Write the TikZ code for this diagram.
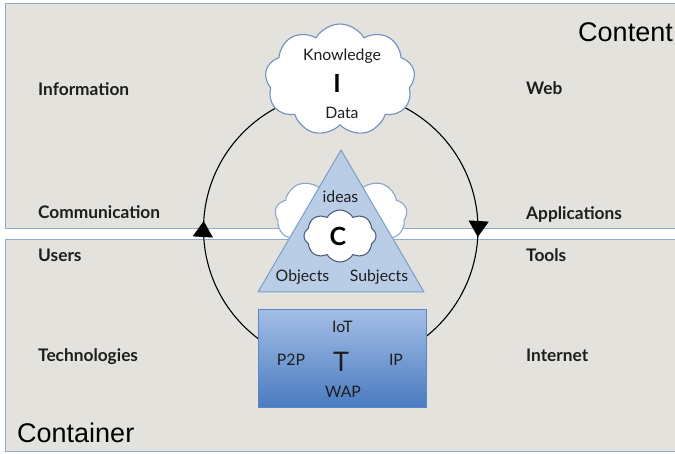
\documentclass[tikz,border=0pt]{standalone}
\usepackage{fontspec}
\setmainfont{Lato}
\newfontfamily\headfont{Liberation Sans}
\usetikzlibrary{shapes.symbols,arrows.meta,decorations.markings,shadows}

\definecolor{panelfill}{HTML}{E4E2DD}
\definecolor{panelline}{HTML}{8FA9D0}
\definecolor{cloudline}{HTML}{6F8FC0}
\definecolor{trifill}{HTML}{B9CDE6}
\definecolor{triline}{HTML}{7D9DC8}
\definecolor{boxtop}{HTML}{A3BEE6}
\definecolor{boxbottom}{HTML}{4A7BC0}
\definecolor{boxline}{HTML}{5E86C0}
\definecolor{textdark}{HTML}{1E1E1E}

\tikzset{
  panel/.style={fill=panelfill, draw=panelline, line width=1pt},
  sidelabel/.style={font=\fontsize{17.3}{20}\selectfont\bfseries, text=textdark, inner sep=0pt},
  inner/.style={font=\fontsize{15.8}{18}\selectfont, text=textdark, inner sep=0pt, anchor=base},
  bigletter/.style={font=\fontsize{25}{28}\selectfont\bfseries, text=black, inner sep=0pt, anchor=base},
  title/.style={font=\headfont\fontsize{27}{30}\selectfont, text=black, inner sep=0pt},
  puffy/.style={cloud, cloud puffs=9, cloud puff arc=120, fill=white, draw=cloudline, line width=1.1pt, inner sep=0pt},
  ring/.style={circle, draw=black, line width=1.1pt, minimum size=274.5pt, inner sep=0pt,
    postaction={decorate},
    decoration={markings,
      mark=at position 0.4907 with {\arrowreversed{Triangle[width=20pt,length=16pt]}},
      mark=at position 0.9907 with {\arrowreversed{Triangle[width=20pt,length=16pt]}}}},
  techbox/.style={draw=boxline, line width=1pt, top color=boxtop, bottom color=boxbottom,
    minimum width=168pt, minimum height=97pt, inner sep=0pt,
    drop shadow={shadow xshift=0.8pt, shadow yshift=-1.2pt, opacity=0.25}},
}

\begin{document}
\begin{tikzpicture}[x=1pt, y=-1pt]
\useasboundingbox (0,0) rectangle (675,454);
\fill[white] (0,0) rectangle (675,454);

% the two layers
\draw[panel] (5,4) rectangle (690,228.5);
\draw[panel] (5,239.5) rectangle (690,451);

\node[title, anchor=base east] (content) at (673,42) {Content};
\node[title, anchor=base west] (container) at (17,442) {Container};

% layer keywords
\node[sidelabel, anchor=base west] (information) at (38,95.5) {Information};
\node[sidelabel, anchor=base west] (communication) at (38,219) {Communication};
\node[sidelabel, anchor=base west] (users) at (38,262) {Users};
\node[sidelabel, anchor=base west] (technologies) at (38,362) {Technologies};
\node[sidelabel, anchor=base west] (web) at (526,95) {Web};
\node[sidelabel, anchor=base west] (applications) at (526,219.5) {Applications};
\node[sidelabel, anchor=base west] (tools) at (526,262) {Tools};
\node[sidelabel, anchor=base west] (internet) at (526,362) {Internet};

% cycle
\node[ring] (ring) at (340.75,229) {};

% information cloud
\node[puffy, minimum width=150pt, minimum height=112pt] (icloud) at (340,80) {};
\node[inner] (knowledge) at (342,61) {Knowledge};
\node[bigletter] (iletter) at (337,93) {I};
\node[inner] (data) at (342,119) {Data};

% communication triangle with clouds
\node[puffy, draw=cloudline!80, minimum width=132pt, minimum height=80pt] (backcloud) at (341,215) {};
\coordinate (apex) at (341,150);
\coordinate (baseright) at (424,292);
\coordinate (baseleft) at (258,292);
\draw[fill=trifill, draw=triline, line width=1pt, line join=round] (apex) -- (baseright) -- (baseleft) -- cycle;
\node[puffy, cloud puffs=8, draw=cloudline!60!black, line width=1pt, minimum width=72pt, minimum height=52pt] (ccloud) at (340,236) {};
\node[inner] (ideas) at (340.5,203) {ideas};
\node[bigletter] (cletter) at (338,246) {C};
\node[inner] (objects) at (302.5,282) {Objects};
\node[inner] (subjects) at (379,282) {Subjects};

% technology box
\node[techbox] (tbox) at (342,358.5) {};
\node[inner] (iot) at (342.5,332.5) {IoT};
\node[inner] (ptwop) at (291,366) {P2P};
\node[inner, font=\fontsize{27}{30}\selectfont] (tletter) at (341,371) {T};
\node[inner] (ip) at (396,366) {IP};
\node[inner] (wap) at (343,397) {WAP};
\end{tikzpicture}
\end{document}
